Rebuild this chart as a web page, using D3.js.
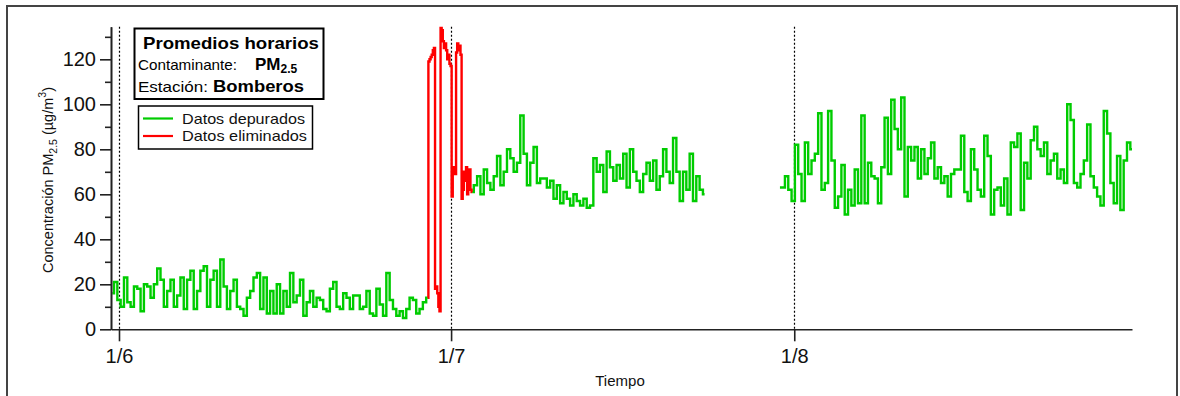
<!DOCTYPE html>
<html><head><meta charset="utf-8">
<script src="https://cdn.jsdelivr.net/npm/d3@7"></script>
<style>
html,body{margin:0;padding:0;background:#fff;}
svg{display:block;font-family:"Liberation Sans",Arial,sans-serif;}
</style></head>
<body><svg id="chart" width="1180" height="396"></svg>
<script>
// ---- data ----
const monthTicks = ["2017-06-01T00:00","2017-07-01T00:00","2017-08-01T00:00"];
const monthLabels = ["1/6","1/7","1/8"];
const yMajorTicks = [0,20,40,60,80,100,120];
const yMinorTicks = [10,30,50,70,90,110,130];
const xDomain = ["2017-05-31T06:40","2017-08-31T12:15"];
const yDomain = [0,134.5];

// green (datos depurados), June
const junStart = "2017-05-31T09:36"; const junStepH = 7.2;
const junValues = [16,21,13,10,23,12,10,19,18,8,
  20,19,14,20,27,22,10,17,22,10,
  15,23,9,22,26,9,17,26,28,10,
  22,26,10,31,19,9,17,22,10,9,
  6,14,17,23,25,9,23,7,17,7,
  20,7,17,10,25,12,15,22,6,12,
  17,10,14,13,9,8,18,21,10,9,
  16,14,9,15,15,9,10,17,7,6,
  18,11,6,25,13,9,6,8,5,9,
  14,13,7,9,12,14];
// red (datos eliminados)
const redStart = "2017-06-28T21:36"; const redStepH = 2.4;
const redValues = [14,119,120,121,122,124,125,18,19,16,10,8,
  134,133,128,125,127,124,120,122,118,117,59,70,72,69,
  123,127,124,126,122,58,62,70,66,72,60,68,71,62,61];
// green, July
const julStart = "2017-07-02T21:36"; const julStepH = 7.2;
const julValues = [61,64,68,60,71,65,62,68,77,64,
  70,80,76,70,74,95,78,64,74,81,
  65,67,67,63,66,58,64,56,61,58,
  55,60,57,55,58,54,55,76,70,73,
  61,79,72,66,73,67,78,63,80,70,
  66,61,69,74,66,75,62,68,80,70,
  65,85,70,57,70,62,78,57,68,62,60];
// green, August
const augStart = "2017-07-30T17:00"; const augStepH = 7.2;
const augValues = [63,63,68,62,57,82,69,57,83,69,
  75,78,96,62,65,97,75,54,59,73,
  51,62,55,71,56,95,56,74,68,67,
  56,72,94,69,102,89,80,103,59,81,
  75,81,67,80,69,76,83,67,72,65,
  68,59,69,71,
  71,86,61,57,80,71,62,59,86,77,
  51,62,63,55,67,51,83,81,87,53,
  74,67,84,90,80,77,83,69,75,78,
  67,71,65,100,93,65,63,69,75,91,
  68,63,59,55,97,87,65,56,77,53,
  75,83,80];

// ---- chart ----
const parse = d3.utcParse("%Y-%m-%dT%H:%M");
const svg = d3.select("#chart");
const x = d3.scaleUtc().domain(xDomain.map(parse)).range([111,1132]);
const y = d3.scaleLinear().domain(yDomain).range([329.3,26.7]);

// outer frame
svg.append("rect").attr("x",7).attr("y",6).attr("width",1170).attr("height",400)
  .attr("fill","none").attr("stroke","#444").attr("stroke-width",2);

// dotted month lines
svg.append("g").selectAll("line").data(monthTicks.map(parse)).join("line")
  .attr("x1",d=>Math.round(x(d))+0.5).attr("x2",d=>Math.round(x(d))+0.5)
  .attr("y1",y(yDomain[1])).attr("y2",y(0))
  .attr("stroke","#000").attr("stroke-width",1.2).attr("stroke-dasharray","2,2");

function series(start, stepH, vals){
  const t0 = parse(start).getTime();
  return vals.map((v,i)=>({t:new Date(t0 + i*stepH*3600e3), v}));
}
const line = d3.line().curve(d3.curveStep).x(d=>x(d.t)).y(d=>y(d.v));
const segs = [
  {pts:series(junStart,junStepH,junValues), c:"#00cc00"},
  {pts:series(julStart,julStepH,julValues), c:"#00cc00"},
  {pts:series(augStart,augStepH,augValues), c:"#00cc00"},
  {pts:series(redStart,redStepH,redValues), c:"#ff0000"}
];
svg.append("g").selectAll("path").data(segs).join("path")
  .attr("d",d=>line(d.pts)).attr("fill","none").attr("stroke",d=>d.c)
  .attr("stroke-width",2.4).attr("stroke-linejoin","miter");

// axes
const axisColor = "#222";
const gyMinor = svg.append("g").attr("transform","translate(111,0)")
  .call(d3.axisLeft(y).tickValues(yMinorTicks).tickSize(6).tickSizeOuter(0).tickFormat(""));
const gy = svg.append("g").attr("transform","translate(111,0)")
  .call(d3.axisLeft(y).tickValues(yMajorTicks).tickSize(11).tickPadding(4).tickSizeOuter(0));
const gx = svg.append("g").attr("transform","translate(0,329.3)")
  .call(d3.axisBottom(x).tickValues(monthTicks.map(parse)).tickSize(12).tickPadding(8).tickSizeOuter(0)
    .tickFormat((d,i)=>monthLabels[i]));
[gyMinor,gy,gx].forEach(g=>{
  g.selectAll("path.domain").attr("stroke",axisColor).attr("stroke-width",1.6);
  g.selectAll(".tick line").attr("stroke",axisColor).attr("stroke-width",1.6);
  g.selectAll(".tick text").attr("fill","#111").attr("font-size",20)
    .attr("font-family","'Liberation Sans',Arial,sans-serif");
});

// axis titles
svg.append("text").attr("x",620).attr("y",386).attr("text-anchor","middle")
  .attr("font-size",15).attr("fill","#111").text("Tiempo");
const yl = svg.append("text").attr("transform","translate(53,180) rotate(-90)")
  .attr("text-anchor","middle").attr("font-size",14.5).attr("fill","#111");
yl.append("tspan").text("Concentración PM");
yl.append("tspan").attr("font-size",10.5).attr("dy",4).text("2.5");
yl.append("tspan").attr("dy",-4).text(" (µg/m");
yl.append("tspan").attr("font-size",10.5).attr("dy",-7).text("3");
yl.append("tspan").attr("dy",7).text(")");

// info box
svg.append("rect").attr("x",134.5).attr("y",28.5).attr("width",189).attr("height",70.5)
  .attr("fill","#fff").attr("stroke","#000").attr("stroke-width",2);
svg.append("text").attr("x",143).attr("y",48.5).attr("font-size",17).attr("font-weight","bold")
  .attr("textLength",176).attr("lengthAdjust","spacingAndGlyphs").text("Promedios horarios");
svg.append("text").attr("x",138).attr("y",69.5).attr("font-size",15)
  .attr("textLength",99).attr("lengthAdjust","spacingAndGlyphs").text("Contaminante:");
const pm = svg.append("text").attr("x",255).attr("y",69.5).attr("font-size",17).attr("font-weight","bold");
pm.append("tspan").text("PM");
pm.append("tspan").attr("font-size",12).attr("dy",3).text("2.5");
svg.append("text").attr("x",138).attr("y",92).attr("font-size",15)
  .attr("textLength",70).attr("lengthAdjust","spacingAndGlyphs").text("Estación:");
svg.append("text").attr("x",213).attr("y",92).attr("font-size",17).attr("font-weight","bold")
  .attr("textLength",91).attr("lengthAdjust","spacingAndGlyphs").text("Bomberos");

// legend
const legendLabels = ["Datos depurados","Datos eliminados"];
const legendColors = ["#00cc00","#ff0000"];
svg.append("rect").attr("x",138.5).attr("y",106).attr("width",174).attr("height",43)
  .attr("fill","#fff").attr("stroke","#000").attr("stroke-width",1.5);
const lg = svg.append("g").selectAll("g").data(legendLabels).join("g")
  .attr("transform",(d,i)=>`translate(0,${118.5+i*17.5})`);
lg.append("line").attr("x1",143).attr("x2",173).attr("stroke",(d,i)=>legendColors[i]).attr("stroke-width",2.2);
lg.append("text").attr("x",182).attr("y",5).attr("font-size",15).attr("fill","#111")
  .attr("textLength",(d,i)=>i?125:123).attr("lengthAdjust","spacingAndGlyphs").text(d=>d);
</script></body></html>
